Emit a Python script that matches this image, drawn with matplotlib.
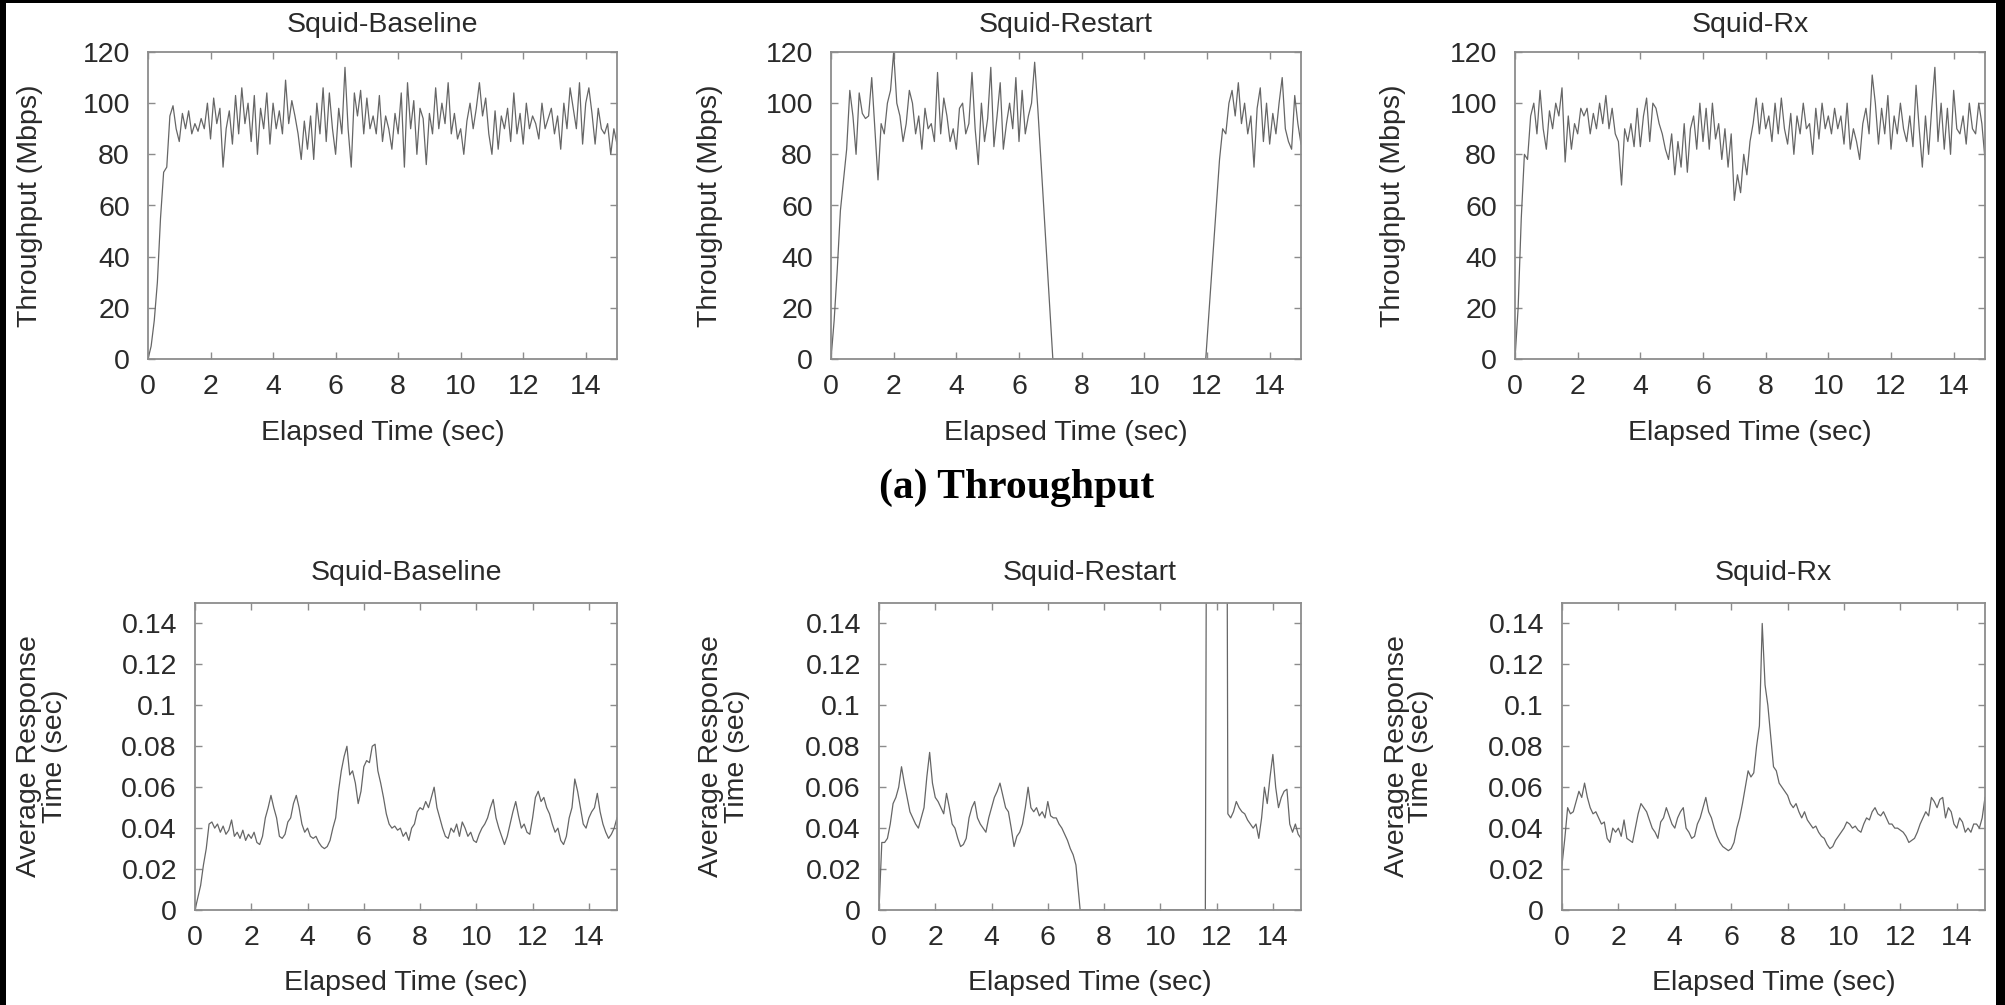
import numpy as np
import matplotlib
matplotlib.use("Agg")
from matplotlib import pyplot as plt
from matplotlib.patches import Rectangle
from matplotlib.ticker import FuncFormatter

# %% --------------- DATA (0.1 s samples)  ------------------------------------------------------------------------- #
titles = ["Squid-Baseline", "Squid-Restart", "Squid-Rx"]
xticks = [0, 2, 4, 6, 8, 10, 12, 14]
thr_yticks = [0, 20, 40, 60, 80, 100, 120]
rt_yticks = [0, 0.02, 0.04, 0.06, 0.08, 0.1, 0.12, 0.14]

# throughput [Mbps], t = 0.0 ... 15.0
thr_baseline = [
    0, 5, 15, 30, 55, 73, 75, 95, 99, 90,
    85, 96, 90, 97, 88, 92, 89, 94, 90, 100,
    86, 102, 92, 98, 75, 90, 97, 84, 103, 88,
    106, 92, 100, 85, 103, 80, 98, 90, 104, 84,
    100, 90, 97, 88, 109, 92, 101, 95, 88, 78,
    93, 82, 95, 78, 100, 88, 106, 85, 104, 90,
    80, 98, 88, 114, 90, 75, 104, 95, 105, 88,
    102, 90, 95, 88, 103, 85, 95, 90, 82, 96,
    88, 104, 75, 108, 90, 101, 80, 98, 94, 76,
    96, 88, 106, 90, 100, 92, 108, 88, 96, 86,
    90, 80, 93, 100, 90, 98, 108, 95, 102, 88,
    80, 97, 82, 95, 90, 98, 85, 104, 88, 96,
    84, 100, 90, 95, 92, 86, 100, 90, 94, 98,
    88, 95, 82, 100, 90, 106, 98, 90, 108, 84,
    100, 106, 96, 84, 98, 90, 88, 92, 80, 90,
    84,
]

# restart: first run t = 0.0 ... 6.5, then a few knots, second run t = 12.4 ... 15.0
thr_restart_a = [
    0, 15, 35, 58, 70, 82, 105, 95, 80, 104,
    96, 94, 95, 110, 90, 70, 92, 88, 100, 105,
    120, 100, 95, 85, 92, 105, 100, 88, 95, 82,
    98, 90, 92, 85, 112, 88, 102, 95, 85, 90,
    82, 98, 100, 88, 92, 112, 90, 76, 100, 85,
    94, 114, 83, 95, 108, 82, 92, 100, 90, 110,
    85, 105, 88, 95, 100, 116,
]
thr_restart_knot_t = [6.6, 7.08, 11.96]
thr_restart_knot_v = [98, 0, 0]
thr_restart_b = [
    78, 90, 88, 100, 105, 95, 108, 92, 100, 88,
    95, 75, 98, 106, 85, 100, 84, 96, 88, 100,
    110, 90, 85, 82, 103, 92, 84,
]

thr_rx = [
    0, 20, 55, 80, 78, 95, 100, 88, 105, 90,
    82, 97, 90, 100, 95, 106, 77, 95, 82, 92,
    88, 98, 95, 98, 88, 96, 90, 100, 92, 103,
    90, 98, 88, 85, 68, 90, 85, 92, 83, 98,
    83, 95, 102, 85, 100, 98, 92, 88, 82, 78,
    88, 72, 85, 75, 92, 73, 90, 95, 82, 100,
    85, 98, 82, 100, 86, 92, 78, 90, 75, 88,
    62, 72, 65, 80, 72, 85, 92, 102, 88, 100,
    90, 95, 85, 100, 88, 102, 90, 84, 96, 80,
    95, 88, 100, 90, 92, 80, 98, 86, 100, 90,
    95, 88, 98, 90, 95, 84, 100, 82, 90, 85,
    78, 92, 98, 88, 111, 100, 84, 98, 88, 103,
    82, 95, 88, 100, 90, 85, 95, 83, 107, 90,
    75, 95, 80, 98, 114, 85, 100, 82, 98, 80,
    105, 90, 88, 95, 84, 100, 90, 88, 100, 92,
    78,
]

# average response time [sec], t = 0.0 ... 15.0
rt_baseline = [
    0, 0.006, 0.012, 0.022, 0.03, 0.042, 0.043, 0.04, 0.042, 0.038,
    0.041, 0.037, 0.039, 0.044, 0.036, 0.038, 0.035, 0.039, 0.034, 0.037,
    0.035, 0.038, 0.033, 0.032, 0.036, 0.045, 0.05, 0.056, 0.05, 0.045,
    0.036, 0.035, 0.037, 0.043, 0.045, 0.052, 0.056, 0.05, 0.042, 0.038,
    0.04, 0.036, 0.035, 0.036, 0.033, 0.031, 0.03, 0.031, 0.034, 0.04,
    0.045, 0.058, 0.068, 0.075, 0.08, 0.066, 0.068, 0.062, 0.052, 0.058,
    0.07, 0.073, 0.072, 0.08, 0.081, 0.068, 0.062, 0.055, 0.047, 0.042,
    0.04, 0.041, 0.039, 0.04, 0.036, 0.038, 0.034, 0.04, 0.042, 0.048,
    0.05, 0.049, 0.053, 0.05, 0.055, 0.06, 0.05, 0.045, 0.04, 0.036,
    0.035, 0.04, 0.038, 0.042, 0.036, 0.043, 0.04, 0.036, 0.038, 0.034,
    0.033, 0.037, 0.04, 0.042, 0.045, 0.05, 0.054, 0.045, 0.04, 0.036,
    0.032, 0.036, 0.042, 0.048, 0.053, 0.046, 0.04, 0.042, 0.038, 0.037,
    0.045, 0.055, 0.058, 0.053, 0.055, 0.05, 0.047, 0.042, 0.038, 0.04,
    0.034, 0.032, 0.036, 0.045, 0.05, 0.064, 0.058, 0.05, 0.042, 0.04,
    0.045, 0.048, 0.05, 0.057, 0.048, 0.042, 0.038, 0.035, 0.037, 0.04,
    0.045,
]

rt_restart_a = [
    0, 0.033, 0.033, 0.035, 0.042, 0.052, 0.055, 0.06, 0.07, 0.062,
    0.055, 0.048, 0.045, 0.042, 0.04, 0.045, 0.05, 0.065, 0.077, 0.062,
    0.055, 0.053, 0.05, 0.047, 0.057, 0.05, 0.042, 0.04, 0.035, 0.031,
    0.032, 0.035, 0.045, 0.05, 0.053, 0.045, 0.042, 0.04, 0.038, 0.045,
    0.05, 0.055, 0.058, 0.062, 0.056, 0.05, 0.048, 0.04, 0.031, 0.036,
    0.038, 0.042, 0.05, 0.06, 0.05, 0.048, 0.05, 0.046, 0.048, 0.045,
    0.053, 0.046, 0.045, 0.045, 0.042, 0.04, 0.037, 0.034, 0.03, 0.027,
    0.022,
]
rt_restart_knot_t = [7.15, 11.6, 12.0]
rt_restart_knot_v = [0, 0, 2.0]
rt_restart_b = [
    0.047, 0.045, 0.048, 0.053, 0.05, 0.048, 0.047, 0.044, 0.042, 0.04,
    0.042, 0.035, 0.045, 0.06, 0.052, 0.065, 0.076, 0.06, 0.05, 0.055,
    0.058, 0.059, 0.042, 0.038, 0.042, 0.037, 0.035,
]

rt_rx = [
    0.022, 0.035, 0.05, 0.047, 0.048, 0.053, 0.058, 0.055, 0.062, 0.055,
    0.05, 0.047, 0.048, 0.045, 0.042, 0.043, 0.035, 0.033, 0.04, 0.038,
    0.04, 0.036, 0.044, 0.035, 0.034, 0.033, 0.04, 0.047, 0.052, 0.05,
    0.048, 0.044, 0.04, 0.038, 0.035, 0.043, 0.045, 0.05, 0.046, 0.042,
    0.04, 0.045, 0.048, 0.05, 0.04, 0.038, 0.035, 0.036, 0.042, 0.045,
    0.05, 0.055, 0.048, 0.045, 0.04, 0.036, 0.033, 0.031, 0.03, 0.029,
    0.03, 0.033, 0.04, 0.045, 0.052, 0.06, 0.068, 0.065, 0.067, 0.08,
    0.09, 0.14, 0.11, 0.1, 0.085, 0.07, 0.068, 0.062, 0.06, 0.058,
    0.056, 0.052, 0.05, 0.052, 0.048, 0.045, 0.048, 0.044, 0.042, 0.04,
    0.041, 0.038, 0.036, 0.035, 0.032, 0.03, 0.031, 0.034, 0.036, 0.038,
    0.04, 0.043, 0.042, 0.04, 0.041, 0.039, 0.038, 0.042, 0.045, 0.044,
    0.048, 0.05, 0.047, 0.046, 0.048, 0.045, 0.042, 0.042, 0.04, 0.04,
    0.039, 0.038, 0.036, 0.033, 0.034, 0.035, 0.038, 0.042, 0.045, 0.048,
    0.046, 0.055, 0.053, 0.05, 0.054, 0.055, 0.045, 0.05, 0.048, 0.042,
    0.04, 0.045, 0.043, 0.038, 0.04, 0.038, 0.042, 0.042, 0.04, 0.045,
    0.055,
]


def sample_times(start, values, dt=0.1):
    return start + dt * np.arange(len(values))


def join_runs(a, knot_t, knot_v, b, b_start):
    t = np.concatenate([sample_times(0.0, a), knot_t, sample_times(b_start, b)])
    v = np.concatenate([a, knot_v, b])
    return t, v


thr_series = [
    (sample_times(0.0, thr_baseline), np.array(thr_baseline)),
    join_runs(thr_restart_a, thr_restart_knot_t, thr_restart_knot_v, thr_restart_b, 12.4),
    (sample_times(0.0, thr_rx), np.array(thr_rx)),
]
rt_series = [
    (sample_times(0.0, rt_baseline), np.array(rt_baseline)),
    join_runs(rt_restart_a, rt_restart_knot_t, rt_restart_knot_v, rt_restart_b, 12.4),
    (sample_times(0.0, rt_rx), np.array(rt_rx)),
]


# %% --------------- PLOT                                         ---------------------------------------------------- #
W, H = 2005, 1005
fig = plt.figure(figsize=(W / 100, H / 100), dpi=100)
fig.patch.set_facecolor("white")
plt.rcParams["font.family"] = ["Liberation Sans", "DejaVu Sans"]

FS = 20.5
frame_col = "#8c8c8c"
line_col = "#666666"
text_col = "#2a2a2a"


def px_axes(left, top, right, bottom):
    return fig.add_axes([left / W, 1 - bottom / H, (right - left) / W, (bottom - top) / H])


def style_axes(ax, yticks, ylim):
    ax.set_xlim(0, 15)
    ax.set_ylim(*ylim)
    ax.set_xticks(xticks)
    ax.set_yticks(yticks)
    ax.yaxis.set_major_formatter(FuncFormatter(lambda v, p: "%g" % v))
    ax.tick_params(direction="in", top=True, right=True, length=5, width=1,
                   color=frame_col, labelsize=FS, labelcolor=text_col)
    ax.tick_params(axis="x", pad=11)
    ax.tick_params(axis="y", pad=13)
    for s in ax.spines.values():
        s.set_color(frame_col)
        s.set_linewidth(1.3)


top_boxes = [(148, 52, 617, 359), (831, 52, 1301, 359), (1515, 52, 1985, 359)]
bot_boxes = [(195, 603, 617, 910), (879, 603, 1301, 910), (1562, 603, 1985, 910)]
top_ylab_x = [30, 710, 1393]
bot_ylab_x = [42, 724, 1409]

for i in range(3):
    # throughput row
    l, t, r, b = top_boxes[i]
    ax = px_axes(l, t, r, b)
    ax.plot(thr_series[i][0], thr_series[i][1], color=line_col, lw=0.9)
    style_axes(ax, thr_yticks, (0, 120))
    cx = (l + r) / 2
    fig.text(cx / W, 1 - 25 / H, titles[i], ha="center", va="center", fontsize=FS, color=text_col)
    fig.text(cx / W, 1 - 433 / H, "Elapsed Time (sec)", ha="center", va="center", fontsize=FS, color=text_col)
    fig.text(top_ylab_x[i] / W, 1 - (t + b) / 2 / H, "Throughput (Mbps)", rotation=90,
             ha="center", va="center", fontsize=FS, color=text_col)

    # response time row
    l, t, r, b = bot_boxes[i]
    ax = px_axes(l, t, r, b)
    ax.plot(rt_series[i][0], rt_series[i][1], color=line_col, lw=0.9)
    style_axes(ax, rt_yticks, (0, 0.15))
    cx = (l + r) / 2
    fig.text(cx / W, 1 - 573 / H, titles[i], ha="center", va="center", fontsize=FS, color=text_col)
    fig.text(cx / W, 1 - 983 / H, "Elapsed Time (sec)", ha="center", va="center", fontsize=FS, color=text_col)
    fig.text(bot_ylab_x[i] / W, 1 - (t + b) / 2 / H, "Average Response\nTime (sec)", rotation=90,
             ha="center", va="center", fontsize=FS, color=text_col, linespacing=0.95,
             multialignment="center")

fig.text(1017 / W, 1 - 488 / H, "(a) Throughput", ha="center", va="center",
         fontsize=30, fontweight="bold", family=["Liberation Serif", "DejaVu Serif"])

# black scan borders
for rect in [(0, 0, 6 / W, 1), (1996 / W, 0, 9 / W, 1), (0, 1 - 3 / H, 1, 3 / H)]:
    fig.patches.append(Rectangle(rect[:2], rect[2], rect[3], transform=fig.transFigure,
                                 facecolor="black", edgecolor="none", zorder=10))

fig.savefig("out.png", dpi=100)
